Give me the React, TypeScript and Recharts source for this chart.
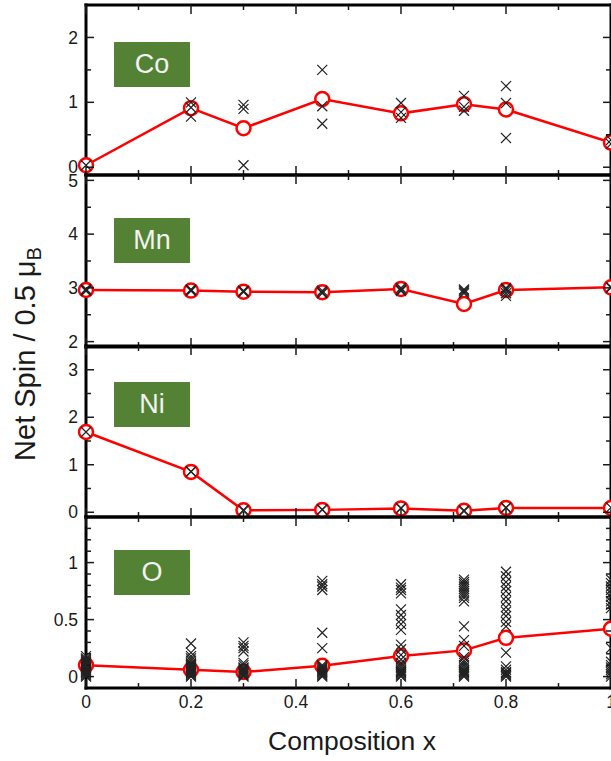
import React from 'react';
import { ComposedChart, Line, Scatter, XAxis, YAxis } from 'recharts';

// compositions x (shared by all four panels)
const composition = [0, 0.2, 0.3, 0.45, 0.6, 0.72, 0.8, 1.0];

// averaged net spin per element (red line)
const coMean = [0.03, 0.91, 0.6, 1.05, 0.83, 0.97, 0.89, 0.38];
const mnMean = [2.96, 2.95, 2.93, 2.92, 2.98, 2.7, 2.96, 3.01];
const niMean = [1.69, 0.85, 0.04, 0.05, 0.08, 0.03, 0.09, 0.09];
const oMean = [0.1, 0.06, 0.04, 0.095, 0.18, 0.23, 0.34, 0.42];

// individual sites (crosses), one list per composition
const coSites = [
  [0.03],
  [1.0, 0.92, 0.78],
  [0.96, 0.9, 0.03],
  [1.5, 0.94, 0.67],
  [0.99, 0.85, 0.76],
  [1.1, 0.93, 0.87],
  [1.25, 0.99, 0.45],
  [0.42, 0.36],
];
const mnSites = [
  [2.94, 2.96, 2.98],
  [2.94, 2.96, 2.97],
  [2.92, 2.94, 2.95],
  [2.9, 2.92, 2.95],
  [2.94, 2.96, 2.99, 3.0],
  [2.9, 2.93, 2.95, 2.97],
  [2.85, 2.9, 2.95, 2.98, 3.0],
  [3.0, 3.02],
];
const niSites = [
  [1.69],
  [0.85, 0.86],
  [0.03, 0.05],
  [0.05, 0.06],
  [0.08, 0.09],
  [0.02, 0.04],
  [0.09, 0.1],
  [0.1],
];
const oSites = [
  [0, 0.01, 0.02, 0.03, 0.04, 0.05, 0.06, 0.07, 0.08, 0.09, 0.1, 0.11, 0.12, 0.13, 0.14, 0.15, 0.16, 0.18],
  [0, 0.01, 0.02, 0.03, 0.04, 0.05, 0.06, 0.07, 0.08, 0.09, 0.1, 0.11, 0.12, 0.14, 0.16, 0.18, 0.21, 0.29],
  [0, 0.01, 0.02, 0.03, 0.04, 0.05, 0.06, 0.07, 0.08, 0.1, 0.12, 0.22, 0.25, 0.27, 0.3],
  [0, 0.01, 0.02, 0.03, 0.04, 0.05, 0.06, 0.07, 0.08, 0.09, 0.1, 0.25, 0.385, 0.76, 0.79, 0.81, 0.84],
  [0, 0.01, 0.02, 0.03, 0.04, 0.05, 0.06, 0.08, 0.1, 0.12, 0.15, 0.19, 0.24, 0.28, 0.41, 0.46, 0.5, 0.54, 0.59, 0.73, 0.76, 0.78, 0.81],
  [0, 0.01, 0.02, 0.03, 0.04, 0.05, 0.06, 0.08, 0.1, 0.12, 0.14, 0.17, 0.27, 0.32, 0.44, 0.66, 0.69, 0.71, 0.73, 0.75, 0.77, 0.79, 0.81, 0.83, 0.85],
  [0, 0.01, 0.02, 0.03, 0.04, 0.06, 0.09, 0.21, 0.44, 0.48, 0.53, 0.57, 0.61, 0.66, 0.7, 0.75, 0.79, 0.83, 0.88, 0.92],
  [0, 0.02, 0.04, 0.06, 0.08, 0.1, 0.13, 0.25, 0.6, 0.63, 0.66, 0.7, 0.73, 0.76, 0.79, 0.82, 0.85],
];

// tick values
const xTicks = [0, 0.1, 0.2, 0.3, 0.4, 0.5, 0.6, 0.7, 0.8, 0.9, 1.0];
const xLabels = [0, 0.2, 0.4, 0.6, 0.8, 1];
const coTicks = [0, 0.5, 1, 1.5, 2];
const coLabels = [0, 1, 2];
const mnTicks = [2, 2.5, 3, 3.5, 4, 4.5, 5];
const mnLabels = [2, 3, 4, 5];
const niTicks = [0, 0.5, 1, 1.5, 2, 2.5, 3];
const niLabels = [0, 1, 2, 3];
const oTicks = [0, 0.1, 0.2, 0.3, 0.4, 0.5, 0.6, 0.7, 0.8, 0.9, 1.0, 1.1, 1.2, 1.3];
const oLabels = [0, 0.5, 1];

const FONT = '"Liberation Sans", Arial, Helvetica, sans-serif';
const RED = '#ff0000';
const INK = '#1a1a1a';

const meanRows = (mean: number[]) => composition.map((x, i) => ({ x, y: mean[i] }));
const siteRows = (sites: number[][]) =>
  sites.flatMap((vals, i) => vals.map((y) => ({ x: composition[i], y })));

const has = (list: number[], v: number) => list.some((l) => Math.abs(l - v) < 1e-6);

const Cross = (props: any) => {
  const { cx, cy } = props;
  if (cx == null || cy == null) return null;
  const s = 5;
  return (
    <path
      d={`M${cx - s},${cy - s}L${cx + s},${cy + s}M${cx - s},${cy + s}L${cx + s},${cy - s}`}
      stroke="#222"
      strokeWidth={1.2}
      fill="none"
    />
  );
};

const makeXTick = (side: 'top' | 'bottom', showLabels: boolean) => (props: any) => {
  const { x, y, payload } = props;
  const v = payload.value;
  const major = has(xLabels, v);
  const len = major ? 9 : 5;
  const dir = side === 'bottom' ? -1 : 1;
  return (
    <g>
      <line x1={x} x2={x} y1={y} y2={y + dir * len} stroke={INK} strokeWidth={1.5} />
      {showLabels && major && (
        <text x={x} y={y + 20} textAnchor="middle" fontSize={17.5} fontFamily={FONT} fill={INK}>
          {String(v)}
        </text>
      )}
    </g>
  );
};

const makeYTick = (side: 'left' | 'right', labels: number[]) => (props: any) => {
  const { x, y, payload } = props;
  const v = payload.value;
  const major = has(labels, v);
  const len = major ? 8 : 5;
  const dir = side === 'left' ? 1 : -1;
  return (
    <g>
      <line x1={x} x2={x + dir * len} y1={y} y2={y} stroke={INK} strokeWidth={1.5} />
      {side === 'left' && major && (
        <text x={x - 8} y={y} dy="0.35em" textAnchor="end" fontSize={17.5} fontFamily={FONT} fill={INK}>
          {String(v)}
        </text>
      )}
    </g>
  );
};

const frame = { stroke: '#000', strokeWidth: 3, strokeLinecap: 'square' as const };

interface PanelProps {
  name: string;
  mean: number[];
  sites: number[][];
  domain: [number, number];
  ticks: number[];
  labels: number[];
  top: number;
  height: number;
  boxTop: number;
  last?: boolean;
}

const Panel: React.FC<PanelProps> = ({ name, mean, sites, domain, ticks, labels, top, height, boxTop, last }) => {
  const bottomH = last ? 40 : 10;
  return (
    <>
      <div style={{ position: 'absolute', left: 0, top: top - 10 }}>
        <ComposedChart width={640} height={10 + height + bottomH} margin={{ top: 0, right: 0, bottom: 0, left: 0 }}>
          <XAxis
            xAxisId="b"
            dataKey="x"
            type="number"
            domain={[0, 1]}
            ticks={xTicks}
            height={bottomH}
            axisLine={frame}
            tickLine={false}
            tickSize={0}
            tickMargin={0}
            tick={makeXTick('bottom', !!last)}
            interval={0}
          />
          <XAxis
            xAxisId="t"
            dataKey="x"
            orientation="top"
            type="number"
            domain={[0, 1]}
            allowDataOverflow
            ticks={xTicks}
            height={10}
            axisLine={frame}
            tickLine={false}
            tickSize={0}
            tickMargin={0}
            tick={makeXTick('top', false)}
            interval={0}
          />
          <YAxis
            yAxisId="l"
            type="number"
            domain={domain}
            ticks={ticks}
            width={86}
            axisLine={frame}
            tickLine={false}
            tickSize={0}
            tickMargin={0}
            tick={makeYTick('left', labels)}
            interval={0}
          />
          <YAxis
            yAxisId="r"
            orientation="right"
            type="number"
            domain={domain}
            allowDataOverflow
            ticks={ticks}
            width={29}
            axisLine={frame}
            tickLine={false}
            tickSize={0}
            tickMargin={0}
            tick={makeYTick('right', labels)}
            interval={0}
          />
          <Line
            xAxisId="b"
            yAxisId="l"
            data={meanRows(mean)}
            dataKey="y"
            type="linear"
            stroke={RED}
            strokeWidth={2.5}
            dot={{ r: 7, fill: '#fff', stroke: RED, strokeWidth: 2.5 }}
            activeDot={false}
            isAnimationActive={false}
          />
          <Scatter
            xAxisId="b"
            yAxisId="l"
            data={siteRows(sites)}
            dataKey="y"
            shape={Cross}
            isAnimationActive={false}
          />
        </ComposedChart>
      </div>
      <div
        style={{
          position: 'absolute',
          left: 114,
          top: boxTop,
          width: 76,
          height: 45,
          background: '#548235',
          color: '#f2f2f2',
          fontFamily: FONT,
          fontSize: 27,
          display: 'flex',
          alignItems: 'center',
          justifyContent: 'center',
        }}
      >
        {name}
      </div>
    </>
  );
};

export default function App() {
  return (
    <div
      style={{
        position: 'absolute',
        left: 0,
        top: 0,
        width: 611,
        height: 761,
        overflow: 'hidden',
        background: '#fff',
        fontFamily: FONT,
      }}
    >
      <Panel name="Co" mean={coMean} sites={coSites} domain={[-0.12, 2.5]} ticks={coTicks} labels={coLabels} top={5} height={170} boxTop={42} />
      <Panel name="Mn" mean={mnMean} sites={mnSites} domain={[1.9, 5.1]} ticks={mnTicks} labels={mnLabels} top={175} height={172} boxTop={218} />
      <Panel name="Ni" mean={niMean} sites={niSites} domain={[-0.1, 3.5]} ticks={niTicks} labels={niLabels} top={346} height={171} boxTop={382} />
      <Panel name="O" mean={oMean} sites={oSites} domain={[-0.1, 1.4]} ticks={oTicks} labels={oLabels} top={517} height={171} boxTop={550} last />
      <svg width={611} height={761} style={{ position: 'absolute', left: 0, top: 0, pointerEvents: 'none' }}>
        <text
          transform="translate(35,354) rotate(-90)"
          textAnchor="middle"
          fontSize={29}
          fontFamily={FONT}
          fill={INK}
        >
          Net Spin / 0.5 μ<tspan fontSize={20} dy={6}>B</tspan>
        </text>
        <text x={352} y={750} textAnchor="middle" fontSize={26.5} fontFamily={FONT} fill={INK}>
          Composition x
        </text>
      </svg>
    </div>
  );
}
